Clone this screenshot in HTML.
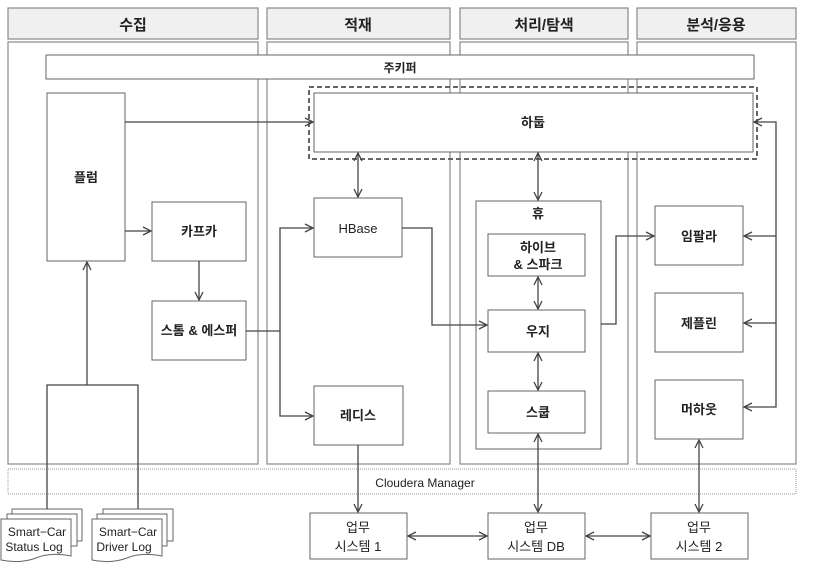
<!DOCTYPE html>
<html><head><meta charset="utf-8"><style>
body{margin:0;background:#fff}
svg{display:block}
text{font-family:"Liberation Sans","Noto Sans CJK KR",sans-serif;fill:#222}
</style></head><body>
<svg width="832" height="588" viewBox="0 0 832 588" xmlns="http://www.w3.org/2000/svg">
<defs>
<marker id="a" viewBox="0 0 10 10" refX="9" refY="5" markerWidth="10" markerHeight="10" orient="auto-start-reverse" markerUnits="userSpaceOnUse"><path d="M1,1 L9,5 L1,9" fill="none" stroke="#444" stroke-width="1.3"/></marker>
</defs>
<g stroke="#888" stroke-width="1.2" fill="#f0f0f0">
<rect x="8" y="8" width="250" height="31"/><rect x="267" y="8" width="183" height="31"/>
<rect x="460" y="8" width="168" height="31"/><rect x="637" y="8" width="159" height="31"/>
</g>
<g font-size="15" font-weight="bold" text-anchor="middle">
<text x="133" y="30">수집</text><text x="358" y="30">적재</text><text x="544" y="30">처리/탐색</text><text x="716" y="30">분석/응용</text>
</g>
<g stroke="#888" stroke-width="1.2" fill="#fff">
<rect x="8" y="42" width="250" height="422"/><rect x="267" y="42" width="183" height="422"/>
<rect x="460" y="42" width="168" height="422"/><rect x="637" y="42" width="159" height="422"/>
</g>
<rect x="8" y="469" width="788" height="25" fill="#fff" stroke="#999" stroke-dasharray="1,1"/>
<text x="425" y="487" font-size="12" text-anchor="middle">Cloudera Manager</text>
<g stroke="#666" stroke-width="1" fill="#fff">
<rect x="46" y="55" width="708" height="24"/>
<rect x="309" y="87" width="448" height="72" stroke-dasharray="5,3" stroke-width="2" fill="none"/>
<rect x="314" y="93" width="439" height="59"/>
<rect x="47" y="93" width="78" height="168"/>
<rect x="152" y="202" width="94" height="59"/>
<rect x="152" y="301" width="94" height="59"/>
<rect x="314" y="198" width="88" height="59"/>
<rect x="314" y="386" width="89" height="59"/>
<rect x="476" y="201" width="125" height="248"/>
<rect x="488" y="234" width="97" height="42"/>
<rect x="488" y="310" width="97" height="42"/>
<rect x="488" y="391" width="97" height="42"/>
<rect x="655" y="206" width="88" height="59"/>
<rect x="655" y="293" width="88" height="59"/>
<rect x="655" y="380" width="88" height="59"/>
<rect x="310" y="513" width="97" height="46"/>
<rect x="488" y="513" width="97" height="46"/>
<rect x="651" y="513" width="97" height="46"/>
<rect x="12" y="509" width="70" height="32"/>
<rect x="7" y="514" width="70" height="32"/>
<path d="M1,519 H71 V556 Q50,552 36,558 Q20,564 1,560 Z"/>
<rect x="103" y="509" width="70" height="32"/>
<rect x="97" y="514" width="70" height="32"/>
<path d="M92,519 H162 V556 Q141,552 127,558 Q111,564 92,560 Z"/>
</g>
<g font-size="13" font-weight="bold" text-anchor="middle">
<text x="400" y="72" font-size="12">주키퍼</text>
<text x="533" y="127">하둡</text>
<text x="86" y="182">플럼</text>
<text x="199" y="236">카프카</text>
<text x="199" y="335">스톰 &amp; 에스퍼</text>
<text x="538" y="218">휴</text>
<text x="538" y="252">하이브</text><text x="538" y="269">&amp; 스파크</text>
<text x="538" y="336">우지</text>
<text x="538" y="417">스쿱</text>
<text x="699" y="241">임팔라</text>
<text x="699" y="328">제플린</text>
<text x="699" y="414">머하웃</text>
<text x="358" y="420">레디스</text>
</g>
<text x="358" y="233" font-size="13" text-anchor="middle">HBase</text>
<g font-size="13" text-anchor="middle">
<text x="358" y="532">업무</text><text x="358" y="551">시스템 1</text>
<text x="536" y="532">업무</text><text x="536" y="551">시스템 DB</text>
<text x="699" y="532">업무</text><text x="699" y="551">시스템 2</text>
</g>
<g font-size="12" text-anchor="middle">
<text x="37" y="536">Smart−Car</text><text x="34" y="551">Status Log</text>
<text x="128" y="536">Smart−Car</text><text x="124" y="551">Driver Log</text>
</g>
<g stroke="#444" stroke-width="1.3" fill="none">
<path d="M125,122 H313" marker-end="url(#a)"/>
<path d="M125,231 H151" marker-end="url(#a)"/>
<path d="M199,261 V300" marker-end="url(#a)"/>
<path d="M87,385 V262" marker-end="url(#a)"/>
<path d="M47,509 V385 H138 V509"/>
<path d="M246,331 H280"/>
<path d="M313,228 H280 V416 H313" marker-start="url(#a)" marker-end="url(#a)"/>
<path d="M402,228 H432 V325 H487" marker-end="url(#a)"/>
<path d="M358,153 V197" marker-start="url(#a)" marker-end="url(#a)"/>
<path d="M538,153 V200" marker-start="url(#a)" marker-end="url(#a)"/>
<path d="M538,277 V309" marker-start="url(#a)" marker-end="url(#a)"/>
<path d="M538,353 V390" marker-start="url(#a)" marker-end="url(#a)"/>
<path d="M538,434 V512" marker-start="url(#a)" marker-end="url(#a)"/>
<path d="M601,324 H616 V236 H654" marker-end="url(#a)"/>
<path d="M754,122 H776 V407 H744" marker-start="url(#a)" marker-end="url(#a)"/>
<path d="M776,236 H744" marker-end="url(#a)"/>
<path d="M776,323 H744" marker-end="url(#a)"/>
<path d="M699,440 V512" marker-start="url(#a)" marker-end="url(#a)"/>
<path d="M358,445 V512" marker-end="url(#a)"/>
<path d="M408,536 H487" marker-start="url(#a)" marker-end="url(#a)"/>
<path d="M586,536 H650" marker-start="url(#a)" marker-end="url(#a)"/>
</g>
</svg>
</body></html>
